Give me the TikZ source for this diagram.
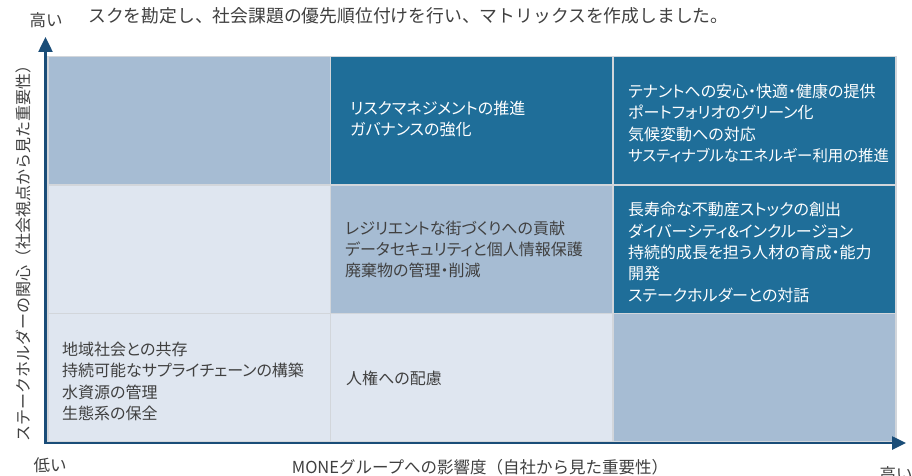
\documentclass[tikz,border=0pt]{standalone}
\usepackage{fontspec}
\setmainfont{Noto Sans CJK JP}[RawFeature={+palt}]
\newfontfamily\plainjp{Noto Sans CJK JP}
\usetikzlibrary{arrows.meta}
\definecolor{darkcell}{HTML}{1F6E99}
\definecolor{midcell}{HTML}{A6BCD3}
\definecolor{lightcell}{HTML}{DFE6F0}
\definecolor{gapline}{HTML}{D2D6DB}
\definecolor{axiscol}{HTML}{1A4D78}
\definecolor{txtgray}{HTML}{404040}
\newcommand{\cellfont}{\fontsize{16}{21.3}\selectfont}
\newcommand{\axisfont}{\plainjp\fontsize{16.5}{20}\selectfont}
\begin{document}
\begin{tikzpicture}[x=1pt,y=-1pt,
  cell/.style={draw=gapline, line width=1.5pt, minimum width=283pt, minimum height=128.3pt, inner sep=0pt, anchor=north west},
  cdark/.style={cell, fill=darkcell},
  cmid/.style={cell, fill=midcell},
  clight/.style={cell, fill=lightcell},
  celltext/.style={anchor=west, align=left, inner sep=0pt, font=\cellfont, text=txtgray},
  celltextw/.style={celltext, text=white},
  axislabel/.style={inner sep=0pt, font=\axisfont, text=txtgray},
  axisline/.style={draw=axiscol, line width=2.5pt, line join=miter,
    {Triangle[length=15pt,width=14pt]}-{Triangle[length=14pt,width=13pt]}}
]
\useasboundingbox (0,0) rectangle (912,476);
\fill[white] (0,0) rectangle (912,476);

% cells
\node[cmid]   (c11) at (47,56) {};
\node[cdark]  (c12) at (329.7,56) {};
\node[cdark]  (c13) at (612.3,56) {};
\node[clight] (c21) at (47,184.3) {};
\node[cmid]   (c22) at (329.7,184.3) {};
\node[cdark]  (c23) at (612.3,184.3) {};
\node[clight] (c31) at (47,312.7) {};
\node[clight] (c32) at (329.7,312.7) {};
\node[cmid]   (c33) at (612.3,312.7) {};

% cell texts
\node[celltextw] (t12) at (350,119) {リスクマネジメントの推進\\ガバナンスの強化};
\node[celltextw] (t13) at (628,123.5) {テナントへの安心・快適・健康の提供\\ポートフォリオのグリーン化\\気候変動への対応\\{\fontsize{15.4}{21.3}\selectfont サスティナブルなエネルギー利用の推進}};
\node[celltext]  (t22) at (345,249.5) {レジリエントな街づくりへの貢献\\データセキュリティと個人情報保護\\廃棄物の管理・削減};
\node[celltextw] (t23) at (628,252.5) {長寿命な不動産ストックの創出\\ダイバーシティ\&インクルージョン\\持続的成長を担う人材の育成・能力\\開発\\ステークホルダーとの対話};
\node[celltext]  (t31) at (62,381.5) {地域社会との共存\\持続可能なサプライチェーンの構築\\水資源の管理\\生態系の保全};
\node[celltext]  (t32) at (346,378) {人権への配慮};

% axes
\coordinate (orig) at (45.5,443);
\coordinate (ytip) at (45.5,37);
\coordinate (xtip) at (906,443);
\draw[axisline] (ytip) -- (orig) -- (xtip);

% labels
\node[inner sep=0pt, anchor=west, font=\plainjp\fontsize{17.8}{20}\selectfont, text=txtgray] (cap) at (88,16) {スクを勘定し、社会課題の優先順位付けを行い、マトリックスを作成しました。};
\node[axislabel] (yhigh) at (46,20) {高い};
\node[axislabel] (ylow) at (50,465) {低い};
\node[axislabel] (xhigh) at (896,474) {高い};
\node[axislabel] (xlab) at (480,467) {MONEグループへの影響度（自社から見た重要性）};
\node[axislabel, rotate=90, font=\plainjp\fontsize{16}{20}\selectfont] (ylab) at (23,249) {ステークホルダーの関心（社会視点から見た重要性）};
\end{tikzpicture}
\end{document}
